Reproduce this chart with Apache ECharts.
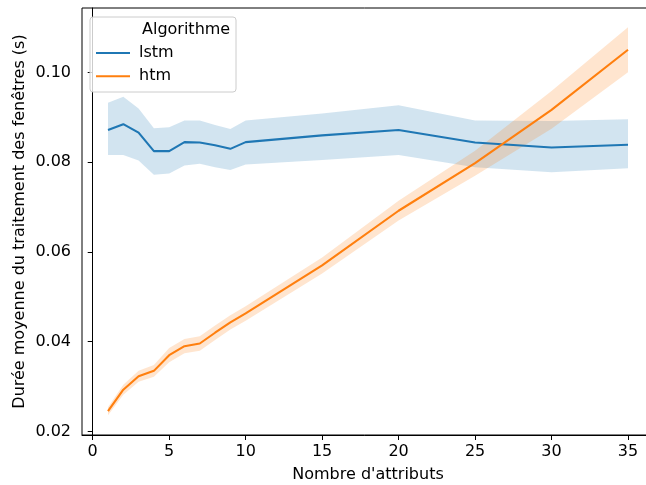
<!DOCTYPE html>
<html>
<head>
<meta charset="utf-8">
<script src="https://cdn.jsdelivr.net/npm/echarts@6/dist/echarts.min.js"></script>
<style>html,body{margin:0;padding:0;background:#fff}#c{width:646px;height:485px}</style>
</head>
<body>
<div id="c"></div>
<script>
var xs = [1, 2, 3, 4, 5, 6, 7, 8, 9, 10, 15, 20, 25, 30, 35];
var lstmMean = [0.0872, 0.0885, 0.0866, 0.0825, 0.0825, 0.0845, 0.0844, 0.0838, 0.0830, 0.0845, 0.0860, 0.0872, 0.0844, 0.0833, 0.0839];
var lstmLow  = [0.0816, 0.0816, 0.0804, 0.0772, 0.0775, 0.0793, 0.0797, 0.0789, 0.0783, 0.0795, 0.0805, 0.0816, 0.0789, 0.0778, 0.0787];
var lstmHigh = [0.0933, 0.0946, 0.0920, 0.0876, 0.0878, 0.0893, 0.0893, 0.0883, 0.0874, 0.0893, 0.0909, 0.0927, 0.0893, 0.0892, 0.0896];
var htmMean = [0.0245, 0.0293, 0.0323, 0.0335, 0.0370, 0.0390, 0.0396, 0.0420, 0.0443, 0.0463, 0.0570, 0.0692, 0.0798, 0.0917, 0.1051];
var htmLow  = [0.0236, 0.0282, 0.0311, 0.0322, 0.0354, 0.0374, 0.0380, 0.0404, 0.0427, 0.0447, 0.0552, 0.0670, 0.0770, 0.0875, 0.1001];
var htmHigh = [0.0254, 0.0304, 0.0335, 0.0348, 0.0386, 0.0406, 0.0412, 0.0436, 0.0459, 0.0479, 0.0588, 0.0714, 0.0826, 0.0959, 0.1101];
var xTicks = [0, 5, 10, 15, 20, 25, 30, 35];
var yTicks = [0.02, 0.04, 0.06, 0.08, 0.10];
var seriesNames = ['lstm', 'htm'];
var legendTitle = 'Algorithme';
var xName = "Nombre d'attributs";
var yName = 'Durée moyenne du traitement des fenêtres (s)';

var FONT = 'DejaVu Sans';
var FS = 16;
var BLUE = '#1f77b4', ORANGE = '#ff7f0e';

function pairs(x, y) { return x.map(function (v, i) { return [v, y[i]]; }); }
function bandData(x, lo, hi) { return x.map(function (v, i) { return [v, lo[i], hi[i]]; }); }

function bandSeries(name, x, lo, hi, color) {
  return {
    type: 'custom',
    name: name,
    z: 1,
    silent: true,
    clip: true,
    data: bandData(x, lo, hi),
    encode: { x: 0, y: [1, 2] },
    renderItem: function (params, api) {
      if (params.dataIndex !== 0) return null;
      var pts = [];
      for (var i = 0; i < x.length; i++) pts.push(api.coord([x[i], hi[i]]));
      for (var j = x.length - 1; j >= 0; j--) pts.push(api.coord([x[j], lo[j]]));
      return {
        type: 'polygon',
        shape: { points: pts },
        style: { fill: color, stroke: null }
      };
    }
  };
}

var chart = echarts.init(document.getElementById('c'), null, { renderer: 'canvas' });
chart.setOption({
  animation: false,
  backgroundColor: '#fff',
  textStyle: { fontFamily: FONT },
  grid: { left: 82, right: -8, top: 8, bottom: 50, containLabel: false, outerBoundsMode: 'none', show: true, borderColor: '#000', borderWidth: 1, backgroundColor: 'transparent' },
  xAxis: {
    type: 'value', min: -0.7, max: 36.7,
    name: xName, nameLocation: 'middle', nameGap: 32, nameMoveOverlap: false,
    nameTextStyle: { color: '#000', fontSize: FS, fontFamily: FONT },
    axisLine: { show: true, lineStyle: { color: '#000', width: 1 } },
    axisTick: { show: true, length: 5, lineStyle: { color: '#000' }, customValues: xTicks },
    axisLabel: { color: '#000', fontSize: FS, fontFamily: FONT, margin: 9, customValues: xTicks, formatter: function (v) { return String(Math.round(v)); } },
    splitLine: { show: false }
  },
  yAxis: {
    type: 'value', min: 0.0192, max: 0.1144,
    name: yName, nameLocation: 'middle', nameGap: 54, nameMoveOverlap: false,
    nameTextStyle: { color: '#000', fontSize: FS, fontFamily: FONT },
    axisLine: { show: true, lineStyle: { color: '#000', width: 1 } },
    axisTick: { show: true, length: 5, lineStyle: { color: '#000' }, customValues: yTicks },
    axisLabel: { color: '#000', fontSize: FS, fontFamily: FONT, margin: 11, customValues: yTicks, formatter: function (v) { return v.toFixed(2); } },
    splitLine: { show: false }
  },
  legend: {
    data: seriesNames,
    orient: 'vertical',
    left: 90, top: 17,
    padding: [28, 6, 6, 6],
    itemGap: 7.3,
    itemWidth: 34, itemHeight: 2,
    icon: 'rect',
    z: 6,
    textStyle: { color: '#000', fontSize: FS, fontFamily: FONT, padding: [0, 0, 0, 4] }
  },
  graphic: [
    { type: 'rect', z: 5, shape: { x: 90, y: 17, width: 146, height: 75, r: 3 }, style: { fill: 'rgba(255,255,255,0.8)', stroke: '#cccccc', lineWidth: 1 } },
    { type: 'text', z: 7, style: { x: 142, y: 30, text: legendTitle, fill: '#000', font: FS + 'px "' + FONT + '"', textVerticalAlign: 'middle' } }
  ],
  series: [
    bandSeries('lstm_band', xs, lstmLow, lstmHigh, 'rgba(31,119,180,0.2)'),
    bandSeries('htm_band', xs, htmLow, htmHigh, 'rgba(255,127,14,0.2)'),
    { type: 'line', name: seriesNames[0], data: pairs(xs, lstmMean), showSymbol: false, z: 3, color: BLUE, lineStyle: { color: BLUE, width: 2.1 } },
    { type: 'line', name: seriesNames[1], data: pairs(xs, htmMean), showSymbol: false, z: 3, color: ORANGE, lineStyle: { color: ORANGE, width: 2.1 } }
  ]
});
</script>
</body>
</html>
